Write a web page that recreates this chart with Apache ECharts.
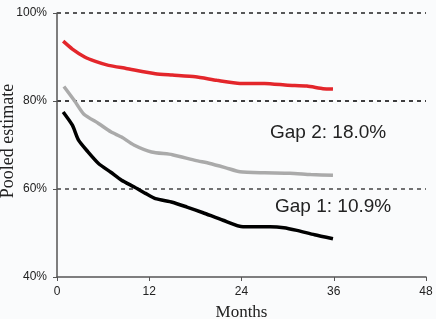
<!DOCTYPE html>
<html>
<head>
<meta charset="utf-8">
<script src="https://cdn.jsdelivr.net/npm/echarts@6/dist/echarts.min.js"></script>
<style>
  html, body {margin: 0; padding: 0; background: #fafbfc;}
  #chart {width: 436px; height: 319px;}
</style>
</head>
<body>
<div id="chart"></div>
<script>
// months / pooled estimate (%)
const redMonths = [0.8, 2, 3.6, 5, 6.7, 9, 12.8, 15, 18, 20.8, 23.8, 27, 30, 32.5, 34.6, 35.9]
const redValues = [93.6, 91.8, 90.0, 89.0, 88.1, 87.4, 86.2, 85.9, 85.5, 84.7, 84.0, 84.0, 83.6, 83.4, 82.8, 82.7]

const grayMonths = [0.9, 2.3, 3.5, 5.4, 7, 8.4, 10, 12.3, 15, 18, 19.9, 22, 23.8, 27, 30.3, 33, 35.9]
const grayValues = [83.3, 80.0, 77.0, 74.9, 73.0, 71.8, 70.0, 68.4, 67.8, 66.5, 65.8, 64.8, 63.9, 63.7, 63.6, 63.3, 63.1]

const blackMonths = [0.8, 2, 2.8, 4, 5.4, 7, 8.4, 10, 11.5, 12.8, 15, 16.9, 19, 21.6, 24.2, 27.7, 29.5, 31.2, 33.5, 35.9]
const blackValues = [77.5, 74.5, 71.1, 68.5, 65.8, 63.8, 62.0, 60.5, 59.0, 57.8, 57.0, 55.9, 54.6, 52.9, 51.4, 51.4, 51.2, 50.6, 49.6, 48.7]

const xTicks = [0, 12, 24, 36, 48]
const yTicks = [40, 60, 80, 100]

const zip = (xs, ys) => xs.map((x, i) => [x, ys[i]])

const chart = echarts.init(document.getElementById('chart'))
chart.setOption({
  backgroundColor: '#fafbfc',
  animation: false,
  grid: {left: 57, right: 10, top: 13, bottom: 42, outerBoundsMode: 'none', containLabel: false},
  xAxis: {
    type: 'value',
    min: xTicks[0], max: xTicks[xTicks.length - 1], interval: 12,
    name: 'Months',
    nameLocation: 'middle',
    nameGap: 27,
    nameTextStyle: {fontFamily: 'Liberation Serif', fontSize: 17, color: '#222'},
    axisLine: {show: true, lineStyle: {color: '#555', width: 1.5}},
    axisTick: {show: true, length: 4, lineStyle: {color: '#555'}},
    axisLabel: {fontFamily: 'Liberation Sans', fontSize: 12, color: '#222', margin: 9},
    splitLine: {show: false}
  },
  yAxis: {
    type: 'value',
    min: yTicks[0], max: yTicks[yTicks.length - 1], interval: 20,
    axisLine: {show: true, lineStyle: {color: '#555', width: 1.5}},
    axisTick: {show: true, length: 4, lineStyle: {color: '#555'}},
    axisLabel: {
      fontFamily: 'Liberation Sans', fontSize: 12, color: '#222', margin: 10,
      formatter: (v) => v + '%'
    },
    splitLine: {
      show: true,
      lineStyle: {color: ['rgba(0,0,0,0)', '#444', '#000', '#222'], type: [4, 4], width: 1.5}
    }
  },
  graphic: [
    {
      type: 'text', x: 8, y: 141, rotation: Math.PI / 2,
      style: {text: 'Pooled estimate', fontFamily: 'Liberation Serif', fontSize: 18, fill: '#222', align: 'center', verticalAlign: 'middle'}
    },
    {type: 'text', left: 270, top: 123, style: {text: 'Gap 2: 18.0%', fontFamily: 'Liberation Sans', fontSize: 19, fill: '#222'}},
    {type: 'text', left: 275, top: 197, style: {text: 'Gap 1: 10.9%', fontFamily: 'Liberation Sans', fontSize: 19, fill: '#222'}}
  ],
  series: [
    {name: 'red', color: '#e3262b', data: zip(redMonths, redValues)},
    {name: 'gray', color: '#aaaaaa', data: zip(grayMonths, grayValues)},
    {name: 'black', color: '#000000', data: zip(blackMonths, blackValues)}
  ].map((s) => ({
    ...s,
    type: 'line',
    symbol: 'none',
    smooth: 0.2,
    lineStyle: {width: 3.5}
  }))
})
</script>
</body>
</html>
